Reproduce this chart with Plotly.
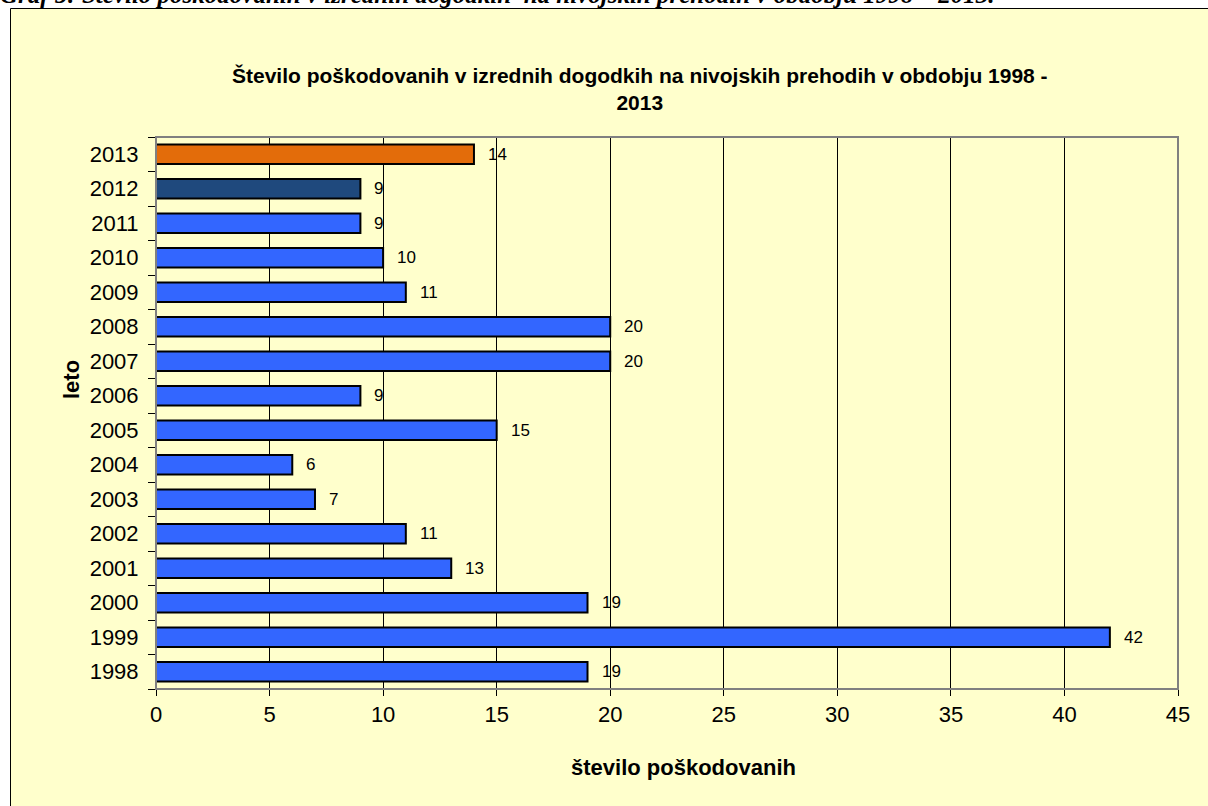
import plotly.graph_objects as go

years = ["1998", "1999", "2000", "2001", "2002", "2003", "2004", "2005",
         "2006", "2007", "2008", "2009", "2010", "2011", "2012", "2013"]
injured = [19, 42, 19, 13, 11, 7, 6, 15, 9, 20, 20, 11, 10, 9, 9, 14]
x_ticks = [0, 5, 10, 15, 20, 25, 30, 35, 40, 45]

caption = "Graf 5: Število poškodovanih v izrednih dogodkih  na nivojskih prehodih v obdobju 1998 – 2013."
chart_title = "Število poškodovanih v izrednih dogodkih na nivojskih prehodih v obdobju 1998 -<br>2013"
x_title = "število poškodovanih"
y_title = "leto"

BLUE = "#3366FF"
DARK = "#1F497D"
ORANGE = "#E36C0A"
colors = [BLUE] * len(years)
colors[-2] = DARK
colors[-1] = ORANGE

W, H = 1208, 806
L, R, T, B = 156, 30, 137, 117
pw, ph = W - L - R, H - T - B

def px_x(x):
    return (x - L) / pw

def px_y(y):
    return (H - B - y) / ph

FONT = "Liberation Sans, Arial, sans-serif"

fig = go.Figure()
fig.add_trace(go.Bar(
    x=injured, y=years, orientation="h",
    marker=dict(color=colors, line=dict(color="black", width=2)),
    width=0.57, hoverinfo="x+y",
))

annotations = []
for i, v in enumerate(injured):
    annotations.append(dict(
        x=v, y=i, xref="x", yref="y", text=str(v), showarrow=False,
        xanchor="left", yanchor="middle", xshift=12,
        font=dict(family=FONT, size=17, color="black"),
    ))

annotations += [
    dict(x=px_x(640), y=px_y(89), xref="paper", yref="paper", text="<b>" + chart_title + "</b>",
         showarrow=False, xanchor="center", yanchor="middle",
         font=dict(family=FONT, size=21, color="black")),
    dict(x=px_x(683), y=px_y(767), xref="paper", yref="paper", text="<b>" + x_title + "</b>",
         showarrow=False, xanchor="center", yanchor="middle",
         font=dict(family=FONT, size=22, color="black")),
    dict(x=px_x(71), y=px_y(380), xref="paper", yref="paper", text="<b>" + y_title + "</b>",
         showarrow=False, xanchor="center", yanchor="middle", textangle=-90,
         font=dict(family=FONT, size=22, color="black")),
    dict(x=px_x(-2), y=px_y(10), xref="paper", yref="paper", text="<b><i>" + caption + "</i></b>",
         showarrow=False, xanchor="left", yanchor="bottom",
         font=dict(family="Liberation Serif, Times New Roman, serif", size=25, color="black")),
]

shapes = [
    dict(type="rect", xref="paper", yref="paper", layer="below",
         x0=px_x(10.5), x1=px_x(1215), y0=px_y(815), y1=px_y(8.5),
         fillcolor="#FFFFCC", line=dict(color="black", width=1)),
    dict(type="rect", xref="paper", yref="paper", layer="above",
         x0=0, x1=1, y0=0, y1=1, line=dict(color="#808080", width=2)),
]

fig.update_layout(
    width=W, height=H,
    margin=dict(l=L, r=R, t=T, b=B),
    paper_bgcolor="white", plot_bgcolor="rgba(0,0,0,0)",
    showlegend=False,
    annotations=annotations,
    shapes=shapes,
    bargap=0.43,
    font=dict(family=FONT, color="black"),
)

fig.update_xaxes(
    range=[0, 45], tickvals=x_ticks, ticktext=[str(t) for t in x_ticks],
    showgrid=True, gridcolor="black", gridwidth=1,
    zeroline=False, showline=True, linecolor="black", linewidth=1,
    ticks="outside", ticklen=6, tickcolor="black",
    tickfont=dict(family=FONT, size=22, color="black"),
    fixedrange=True, automargin=False,
)
fig.update_yaxes(
    type="category", categoryorder="array", categoryarray=years,
    range=[-0.5, len(years) - 0.5], autorange=False,
    showgrid=False, zeroline=False, showline=True, linecolor="black", linewidth=1,
    ticks="outside", ticklen=7, tickcolor="black", tickson="boundaries",
    tickfont=dict(family=FONT, size=22, color="black"),
    ticklabelstandoff=12,
    fixedrange=True, automargin=False,
)

fig.write_html("out.html", config={"displayModeBar": False},
               post_script="document.body.style.margin='0';document.body.style.overflow='hidden';")
